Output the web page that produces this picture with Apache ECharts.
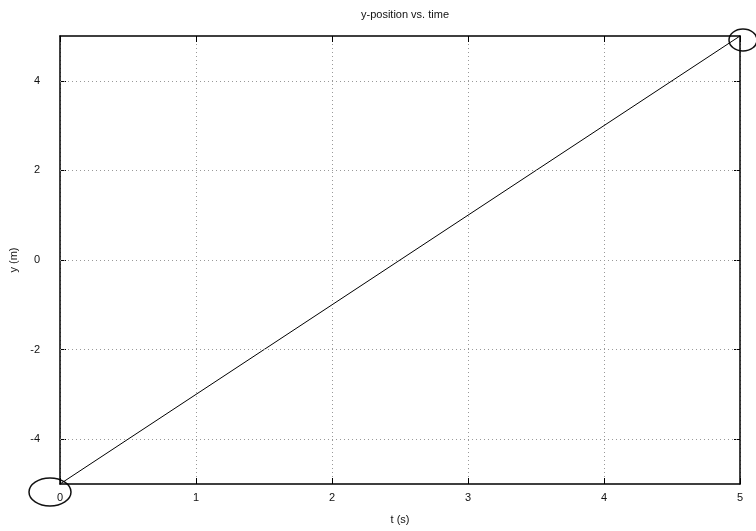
<!DOCTYPE html>
<html>
<head>
<meta charset="utf-8">
<script src="https://cdn.jsdelivr.net/npm/echarts@6/dist/echarts.min.js"></script>
<style>
html,body{margin:0;padding:0;background:#fff;}
#main{width:756px;height:531px;}
</style>
</head>
<body>
<div id="main"></div>
<script>
// 数据
const tVals = [0, 1, 2, 3, 4, 5];
const yVals = [-5, -3, -1, 1, 3, 5];
const xTicks = [0, 1, 2, 3, 4, 5];
const yTicks = [-4, -2, 0, 2, 4];

let chart = echarts.init(document.getElementById('main'));
const font = 'Liberation Sans';
const gridStyle = {color: '#999', type: [1, 3], width: 1};
const boxLine = {show: true, onZero: false, lineStyle: {color: '#000', width: 1.5}};
const inTick = {show: true, inside: true, length: 6, lineStyle: {color: '#000'}};

const option = {
    animation: false,
    backgroundColor: '#fff',
    title: {
        text: 'y-position vs. time',
        left: 400, top: 4, textAlign: 'center',
        textStyle: {fontFamily: font, fontSize: 11, fontWeight: 'normal', color: '#111'}
    },
    grid: {left: 60, right: 16, top: 36, bottom: 47},
    xAxis: [{
        type: 'value', min: 0, max: 5, interval: 1,
        name: 't (s)', nameLocation: 'middle', nameGap: 30,
        nameTextStyle: {fontFamily: font, fontSize: 11, color: '#111'},
        axisLine: boxLine,
        axisTick: inTick,
        axisLabel: {fontFamily: font, fontSize: 11, color: '#111', margin: 8},
        splitLine: {show: true, lineStyle: gridStyle}
    }, {
        type: 'value', position: 'top', min: 0, max: 5, interval: 1,
        axisLine: boxLine, axisTick: inTick, axisLabel: {show: false}, splitLine: {show: false}
    }],
    yAxis: [{
        type: 'value', min: -5, max: 5,
        name: 'y (m)', nameLocation: 'middle', nameGap: 34, nameRotate: 90,
        nameTextStyle: {fontFamily: font, fontSize: 11, color: '#111'},
        axisLine: boxLine,
        axisTick: Object.assign({customValues: yTicks}, inTick),
        axisLabel: {fontFamily: font, fontSize: 11, color: '#111', margin: 20, customValues: yTicks},
        splitLine: {show: false}
    }, {
        type: 'value', position: 'right', min: -5, max: 5,
        axisLine: boxLine,
        axisTick: Object.assign({customValues: yTicks}, inTick),
        axisLabel: {show: false}, splitLine: {show: false}
    }],
    series: [{
        type: 'line',
        data: tVals.map((t, i) => [t, yVals[i]]),
        showSymbol: false,
        lineStyle: {color: '#000', width: 1},
        markLine: {
            silent: true, symbol: 'none', label: {show: false},
            lineStyle: gridStyle,
            data: yTicks.map(v => ({yAxis: v}))
        }
    }],
    graphic: [
        {type: 'ellipse', shape: {cx: 50, cy: 492, rx: 21, ry: 14}, style: {fill: 'none', stroke: '#111', lineWidth: 1.5}},
        {type: 'ellipse', shape: {cx: 743, cy: 40, rx: 14, ry: 11}, style: {fill: 'none', stroke: '#111', lineWidth: 1.5}}
    ]
};
chart.setOption(option);
</script>
</body>
</html>
